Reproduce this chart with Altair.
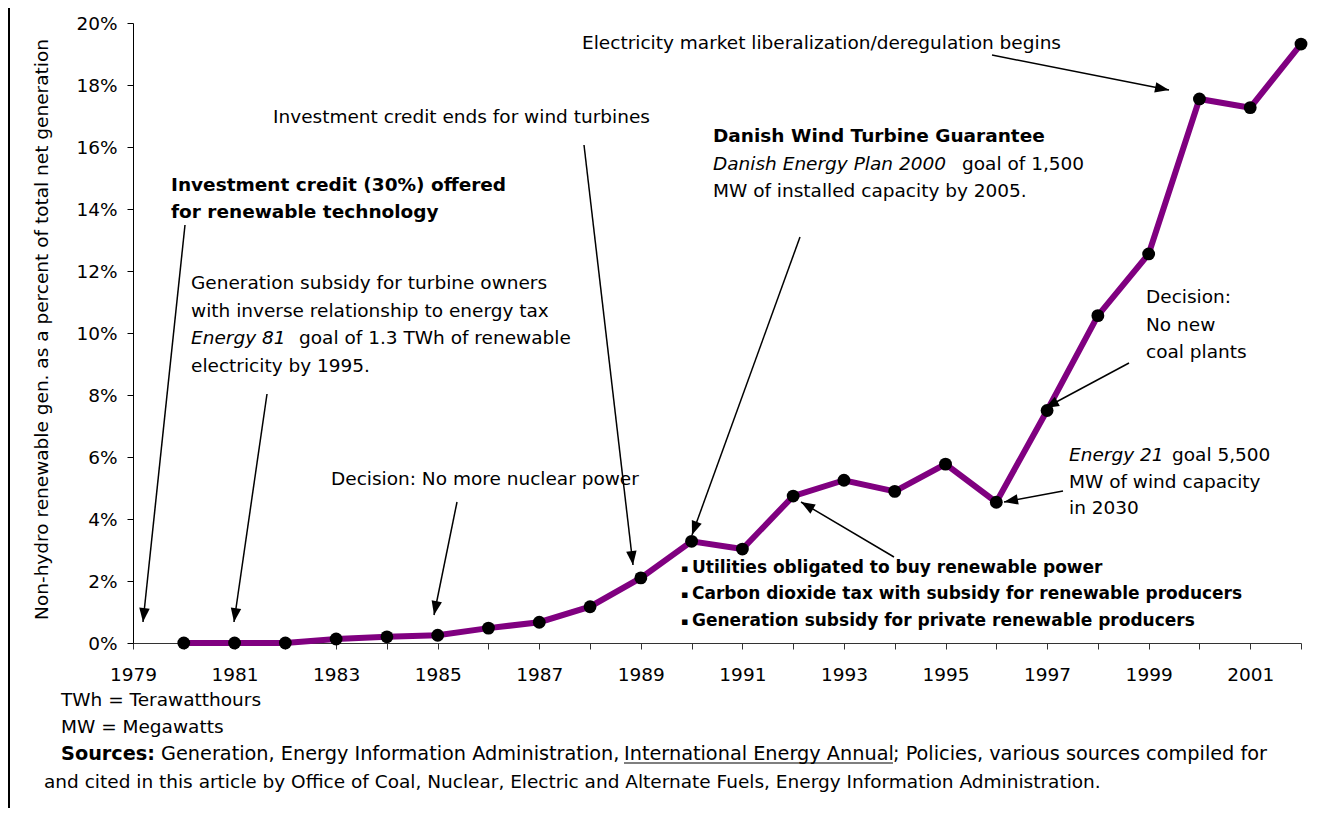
import altair as alt
import pandas as pd

# ---------------- data ----------------
years = list(range(1980, 2003))
share_pct = [0.0, 0.0, 0.0, 0.13, 0.2, 0.25, 0.48, 0.67, 1.17, 2.1, 3.28, 3.03,
             4.74, 5.25, 4.89, 5.77, 4.54, 7.5, 10.56, 12.55, 17.55, 17.27, 19.32]
x_ticks = list(range(1979, 2003))
y_ticks = list(range(0, 21, 2))
y_title = "Non-hydro renewable gen. as a percent of total net generation"

# annotation texts
ann_text = [
    "Electricity market liberalization/deregulation begins",
    "Investment credit ends for wind turbines",
    "Danish Wind Turbine Guarantee",
    "Danish Energy Plan 2000",
    "goal of 1,500",
    "MW of installed capacity by 2005.",
    "Investment credit (30%) offered",
    "for renewable technology",
    "Generation subsidy for turbine owners",
    "with inverse relationship to energy tax",
    "Energy 81",
    "goal of 1.3 TWh of renewable",
    "electricity by 1995.",
    "Decision: No more nuclear power",
    "Decision:",
    "No new",
    "coal plants",
    "Energy 21",
    "goal 5,500",
    "MW of wind capacity",
    "in 2030",
    "\u25aa",
    "Utilities obligated to buy renewable power",
    "\u25aa",
    "Carbon dioxide tax with subsidy for renewable producers",
    "\u25aa",
    "Generation subsidy for private renewable producers",
    "TWh = Terawatthours",
    "MW = Megawatts",
    "Sources:",
    "Generation, Energy Information Administration,",
    "International Energy Annual",
    "; Policies, various sources compiled for",
    "and cited in this article by Office of Coal, Nuclear, Electric and Alternate Fuels, Energy Information Administration.",
]
ann_style = [
    "normal", "normal", "bold", "italic", "normal", "normal", "bold", "bold",
    "normal", "normal", "italic", "normal", "normal", "normal", "normal", "normal",
    "normal", "italic", "normal", "normal", "normal", "bullet", "bold17", "bullet",
    "bold17", "bullet", "bold17", "normal", "normal", "boldsrc", "src", "src",
    "src", "normal",
]
# layout: page positions (left x, baseline y)
ann_px = [582, 273, 713, 713, 962, 713, 171, 171, 191, 191, 191, 299, 191, 331,
          1146, 1146, 1146, 1069, 1172, 1069, 1069, 681, 692, 681, 692, 681, 692,
          61, 61, 61, 161, 624, 893, 44]
ann_py = [49, 123, 142, 170, 170, 197, 191, 218, 289, 317, 344, 344, 372, 485,
          303, 331, 358, 461, 461, 488, 514, 572, 573, 598, 599, 625, 626,
          706, 733, 760, 760, 760, 760, 788]

# arrows: page positions (start -> tip)
arr_x1 = [185, 267, 457, 584, 800, 894, 1063, 1129, 992]
arr_y1 = [225, 394, 502, 145, 237, 557, 491, 363, 55]
arr_x2 = [143, 234, 434, 633, 692, 801, 1004, 1045, 1169]
arr_y2 = [622, 622, 615, 565, 535, 502, 502, 408, 90]

# underline of the publication title (page positions)
ul_x1, ul_x2, ul_y = [624], [893], [763]

# ---------------- layout ----------------
FONT = "DejaVu Sans"
FS = 18.5
OX, OY = 133, 23          # page position of plot origin
W, H = 1168, 620

df = pd.DataFrame({"year": years, "share": share_pct})

ann = pd.DataFrame({"text": ann_text, "style": ann_style,
                    "vx": [v - OX for v in ann_px], "vy": [v - OY for v in ann_py]})
arr = pd.DataFrame({"x1": [v - OX for v in arr_x1], "y1": [v - OY for v in arr_y1],
                    "x2": [v - OX for v in arr_x2], "y2": [v - OY for v in arr_y2]})
ul = pd.DataFrame({"x1": [v - OX for v in ul_x1], "x2": [v - OX for v in ul_x2],
                   "y": [v - OY for v in ul_y]})

xscale = alt.Scale(domain=[1979, 2002], nice=False, zero=False)
yscale = alt.Scale(domain=[0, 20], nice=False)

xaxis = alt.Axis(values=x_ticks, labelExpr="datum.value % 2 == 1 ? '' + datum.value : ''",
                 title=None, grid=False, tickSize=6, labelPadding=31,
                 labelBaseline="alphabetic", labelFont=FONT, labelFontSize=FS,
                 labelColor="black", domainColor="#333333", tickColor="#333333",
                 labelFlush=False, labelOverlap=False)
yaxis = alt.Axis(values=y_ticks, labelExpr="datum.value + '%'", title=y_title,
                 grid=False, tickSize=6, labelPadding=10, labelFont=FONT,
                 labelFontSize=FS, labelColor="black", domainColor="black",
                 tickColor="black", labelFlush=False, labelOverlap=False,
                 titleFont=FONT, titleFontSize=FS, titleFontWeight="normal",
                 titleColor="black", titleAngle=270, titleX=-92, titleY=306,
                 titleAlign="center", titleBaseline="middle")

line = alt.Chart(df).mark_line(
    color="#800080", strokeWidth=6,
    point=alt.OverlayMarkDef(filled=True, color="black", size=165, opacity=1),
).encode(
    x=alt.X("year:Q", scale=xscale, axis=xaxis),
    y=alt.Y("share:Q", scale=yscale, axis=yaxis),
)

def px(f):
    return alt.X(f + ":Q", scale=None, axis=None)

def py(f):
    return alt.Y(f + ":Q", scale=None, axis=None)

arrows = alt.Chart(arr).mark_rule(color="black", strokeWidth=1.5).encode(
    x=px("x1"), y=py("y1"), x2=alt.X2("x2"), y2=alt.Y2("y2"))
heads = alt.Chart(arr).transform_calculate(
    ang="(atan2(datum.x2 - datum.x1, datum.y1 - datum.y2) * 180 / PI + 360) % 360"
).mark_point(shape="M0,0L-0.75,2L0.75,2Z", filled=True, size=196, color="black",
             opacity=1, strokeWidth=0).encode(
    x=px("x2"), y=py("y2"), angle=alt.Angle("ang:Q", scale=None))
underline = alt.Chart(ul).mark_rule(color="black", strokeWidth=1.2).encode(
    x=px("x1"), x2=alt.X2("x2"), y=py("y"))

styles = {
    "normal": {},
    "bold": {"fontWeight": "bold"},
    "italic": {"fontStyle": "italic"},
    "bold17": {"fontWeight": "bold", "fontSize": 17},
    "bullet": {"fontWeight": "bold", "fontSize": 11},
    "src": {"fontSize": 19.3},
    "boldsrc": {"fontWeight": "bold", "fontSize": 19.3},
}
texts = []
for style, kw in styles.items():
    opts = {"fontSize": FS}
    opts.update(kw)
    texts.append(
        alt.Chart(ann[ann["style"] == style]).mark_text(
            align="left", baseline="alphabetic", font=FONT, color="black",
            **opts).encode(x=px("vx"), y=py("vy"), text="text:N"))

border = alt.Chart(pd.DataFrame({"a": [0]})).mark_rule(color="black", strokeWidth=2).encode(
    x=alt.value(-124), y=alt.value(-23), y2=alt.value(785))

chart = alt.layer(line, arrows, heads, underline, *texts, border).resolve_scale(
    x="independent", y="independent"
).properties(
    width=W, height=H,
    padding={"left": 125, "top": 15, "right": 20, "bottom": 165},
    autosize=alt.AutoSizeParams(type="none"),
).configure_view(strokeWidth=0)

chart.save("out.html", embed_options={"renderer": "svg", "actions": False})
